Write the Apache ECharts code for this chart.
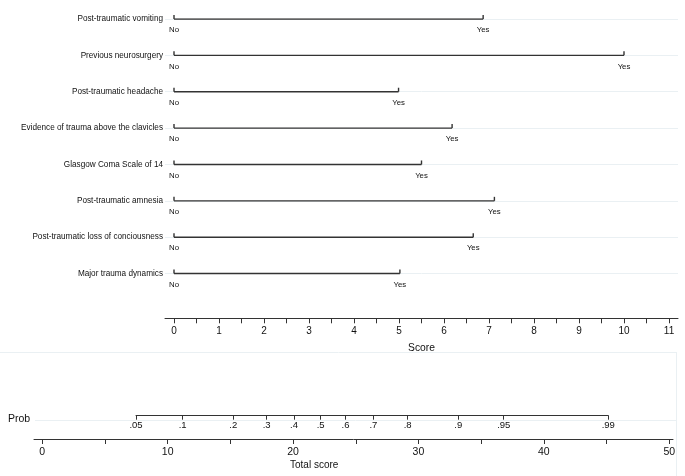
<!DOCTYPE html>
<html>
<head>
<meta charset="utf-8">
<script src="https://cdn.jsdelivr.net/npm/echarts@6/dist/echarts.min.js"></script>
<style>html,body{margin:0;padding:0;background:#fff}#c{width:685px;height:476px}</style>
</head>
<body>
<div id="c"></div>
<script>
// ---- data ----
const rowNames = [
  'Post-traumatic vomiting',
  'Previous neurosurgery',
  'Post-traumatic headache',
  'Evidence of trauma above the clavicles',
  'Glasgow Coma Scale of 14',
  'Post-traumatic amnesia',
  'Post-traumatic loss of conciousness',
  'Major trauma dynamics'
];
const levelLabels = ['No', 'Yes'];
const noScores  = [0, 0, 0, 0, 0, 0, 0, 0];
const yesScores = [6.87, 10.0, 4.99, 6.18, 5.5, 7.12, 6.65, 5.02];
const scoreTickValues = [0,0.5,1,1.5,2,2.5,3,3.5,4,4.5,5,5.5,6,6.5,7,7.5,8,8.5,9,9.5,10,10.5,11];
const scoreLabelValues = [0,1,2,3,4,5,6,7,8,9,10,11];
const totalTickValues = [0,5,10,15,20,25,30,35,40,45,50];
const totalLabelValues = [0,10,20,30,40,50];
const probLabels = ['.05','.1','.2','.3','.4','.5','.6','.7','.8','.9','.95','.99'];
const probTotalPositions = [7.47, 11.19, 15.23, 17.89, 20.07, 22.2, 24.18, 26.4, 29.14, 33.17, 36.8, 45.14];

// ---- chart ----
const FONT = "'Liberation Sans', Arial, Helvetica, sans-serif";
const AX = '#333333';
const TXT = '#111111';
const GUIDE = '#eaf0f3';

const chart = echarts.init(document.getElementById('c'), null, {renderer: 'canvas'});

const rowSeries = rowNames.map((name, i) => ({
  type: 'line',
  name: name,
  xAxisIndex: 0, yAxisIndex: 0,
  data: [[noScores[i], i], [yesScores[i], i]],
  lineStyle: {color: AX, width: 1.4},
  itemStyle: {color: AX},
  symbol: 'rect',
  symbolSize: [1.4, 4],
  symbolOffset: [0, -2],
  showSymbol: true,
  silent: true,
  animation: false,
  z: 3,
  label: {
    show: true,
    position: 'bottom',
    distance: 7,
    fontSize: 7.8,
    fontFamily: FONT,
    color: TXT,
    formatter: p => levelLabels[p.dataIndex]
  },
  markLine: {
    silent: true,
    symbol: 'none',
    label: {show: false},
    lineStyle: {color: GUIDE, width: 1, type: 'solid'},
    data: [{yAxis: i}],
    z: 1,
    animation: false
  }
}));

const option = {
  animation: false,
  textStyle: {fontFamily: FONT},
  grid: [
    {left: 165, right: 7, top: 19, bottom: 157.7},
    {left: 136, right: 76.7, top: 380, bottom: 60.3},
    {left: 34, right: 12, top: 425, bottom: 37}
  ],
  xAxis: [
    {
      gridIndex: 0, type: 'value', min: -0.2, max: 11.2, position: 'bottom',
      axisLine: {show: true, onZero: false, lineStyle: {color: AX, width: 1}},
      axisTick: {show: true, length: 5, customValues: scoreTickValues, lineStyle: {color: AX}},
      axisLabel: {show: true, customValues: scoreLabelValues, margin: 8, fontSize: 10, color: TXT, fontFamily: FONT},
      splitLine: {show: false},
      name: 'Score', nameLocation: 'middle', nameGap: 25,
      nameTextStyle: {fontSize: 10.3, color: TXT, fontFamily: FONT}
    },
    {
      gridIndex: 1, type: 'value', min: probTotalPositions[0], max: probTotalPositions[probTotalPositions.length - 1], position: 'bottom',
      axisLine: {show: true, onZero: false, lineStyle: {color: AX, width: 1}},
      axisTick: {show: true, length: 4, customValues: probTotalPositions, lineStyle: {color: AX}},
      axisLabel: {
        show: true, customValues: probTotalPositions, margin: 4.5, fontSize: 9.5, color: TXT, fontFamily: FONT,
        showMinLabel: true, showMaxLabel: true,
        formatter: v => {
          let k = 0, best = Infinity;
          probTotalPositions.forEach((p, j) => { const d = Math.abs(p - v); if (d < best) { best = d; k = j; } });
          return probLabels[k];
        }
      },
      splitLine: {show: false}
    },
    {
      gridIndex: 2, type: 'value', min: -0.66, max: 50.3, position: 'bottom',
      axisLine: {show: true, onZero: false, lineStyle: {color: AX, width: 1}},
      axisTick: {show: true, length: 5, customValues: totalTickValues, lineStyle: {color: AX}},
      axisLabel: {show: true, customValues: totalLabelValues, margin: 8, fontSize: 10.5, color: TXT, fontFamily: FONT},
      splitLine: {show: false}
    }
  ],
  yAxis: [
    {
      gridIndex: 0, type: 'value', min: 0, max: 8.23, inverse: true,
      axisLine: {show: false}, axisTick: {show: false},
      splitLine: {show: false},
      axisLabel: {
        show: true, customValues: [0,1,2,3,4,5,6,7], margin: 2, fontSize: 8.2, color: TXT, fontFamily: FONT,
        showMinLabel: true, showMaxLabel: true,
        formatter: v => rowNames[Math.round(v)] || ''
      }
    },
    {gridIndex: 1, type: 'value', show: false, min: 0, max: 1},
    {gridIndex: 2, type: 'value', show: false, min: 0, max: 1}
  ],
  graphic: [
    {type: 'line', silent: true, z: 0, shape: {x1: 0, y1: 352.5, x2: 677, y2: 352.5}, style: {stroke: GUIDE, lineWidth: 1}},
    {type: 'line', silent: true, z: 0, shape: {x1: 676.5, y1: 352.5, x2: 676.5, y2: 476}, style: {stroke: GUIDE, lineWidth: 1}},
    {type: 'line', silent: true, z: 0, shape: {x1: 35, y1: 420.5, x2: 676, y2: 420.5}, style: {stroke: GUIDE, lineWidth: 1}},
    {type: 'text', left: 8, top: 414, silent: true,
      style: {text: 'Prob', fontSize: 10.5, fill: TXT, font: '10.5px ' + FONT}},
    {type: 'text', left: 290, top: 460, silent: true,
      style: {text: 'Total score', fontSize: 10, fill: TXT, font: '10px ' + FONT}}
  ],
  series: rowSeries
};

chart.setOption(option);
</script>
</body>
</html>
